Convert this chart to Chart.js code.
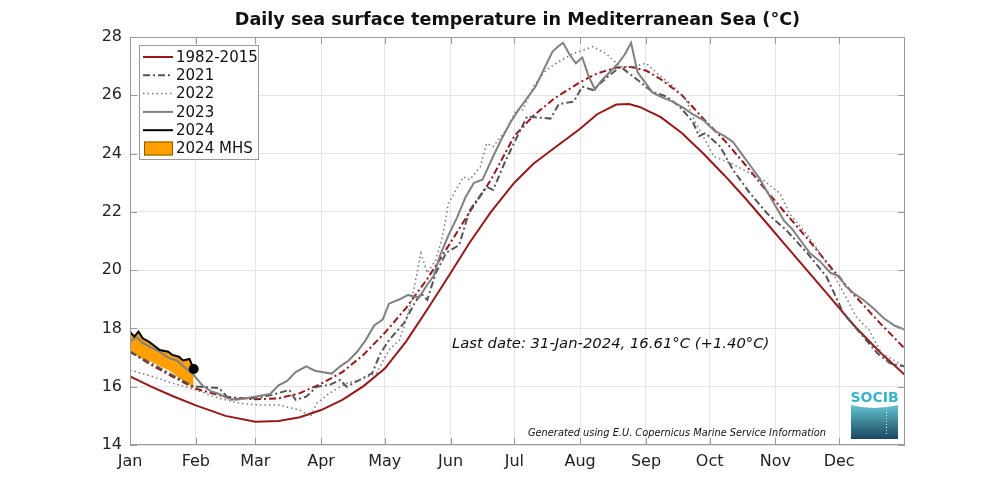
<!DOCTYPE html>
<html lang="en">
<head>
    <meta charset="utf-8">
    <title>Daily sea surface temperature in Mediterranean Sea</title>
    <script src="https://cdn.jsdelivr.net/npm/chart.js@4.4.0/dist/chart.umd.min.js"></script>
    <style>
        body { margin: 0; background: #fff; }
        #sst { display: block; }
    </style>
</head>
<body>
    <canvas id="sst" width="1000" height="500"></canvas>
    <script>
        // axis labels
        const monthLabels = ['Jan', 'Feb', 'Mar', 'Apr', 'May', 'Jun', 'Jul', 'Aug', 'Sep', 'Oct', 'Nov', 'Dec'];
        const monthStarts = [0, 31, 59, 90, 120, 151, 181, 212, 243, 273, 304, 334];
        const yTicks = [14, 16, 18, 20, 22, 24, 26, 28];

        // 1982-2015 climatology (day of year, degC)
        const climDays = [0, 10, 20, 31, 45, 59, 70, 80, 90, 100, 110, 120, 130, 140, 151, 160, 170, 181, 190, 200, 212, 220, 229, 235, 240, 250, 260, 270, 280, 290, 300, 310, 320, 330, 341, 353, 365];
        const climSst = [16.35, 16.0, 15.68, 15.36, 15.0, 14.8, 14.82, 14.95, 15.2, 15.55, 16.02, 16.62, 17.55, 18.65, 19.9, 20.95, 22.0, 23.0, 23.65, 24.2, 24.85, 25.35, 25.68, 25.7, 25.6, 25.25, 24.7, 24.0, 23.25, 22.45, 21.6, 20.75, 19.9, 19.05, 18.1, 17.2, 16.4];

        // dash-dot red line (MHS threshold)
        const threshDays = [0, 10, 20, 31, 45, 59, 70, 80, 90, 100, 110, 120, 130, 140, 151, 160, 170, 181, 190, 200, 212, 220, 229, 236, 243, 250, 260, 270, 280, 290, 300, 310, 320, 330, 341, 353, 365];
        const threshSst = [17.2, 16.75, 16.35, 15.93, 15.65, 15.57, 15.6, 15.78, 16.1, 16.5, 17.1, 17.85, 18.7, 19.7, 20.95, 22.0, 23.1, 24.6, 25.3, 25.9, 26.45, 26.75, 26.95, 26.97, 26.85, 26.55, 26.0, 25.2, 24.45, 23.6, 22.7, 21.85, 21.0, 20.1, 19.15, 18.2, 17.3];

        const days2021 = [0, 5, 10, 15, 20, 25, 30, 33, 42, 47, 53, 59, 67, 75, 78, 83, 88, 94, 99, 102, 108, 114, 118, 122, 129, 134, 137, 140, 144, 149, 155, 160, 168, 171, 177, 187, 198, 202, 209, 213, 218, 225, 231, 236, 240, 246, 253, 259, 265, 268, 271, 278, 284, 292, 300, 309, 319, 328, 336, 344, 352, 358, 365];
        const sst2021 = [17.2, 17.0, 16.8, 16.6, 16.4, 16.2, 16.0, 16.0, 15.95, 15.55, 15.6, 15.6, 15.72, 15.89, 15.55, 15.66, 16.0, 16.06, 16.23, 16.0, 16.23, 16.46, 17.15, 17.6, 18.18, 18.86, 19.2, 18.98, 19.9, 20.6, 20.86, 22.06, 22.86, 22.75, 23.78, 25.27, 25.2, 25.7, 25.78, 26.3, 26.18, 26.64, 26.98, 26.7, 26.47, 26.12, 25.95, 25.6, 25.1, 24.6, 24.7, 24.24, 23.44, 22.64, 21.95, 21.38, 20.58, 19.78, 18.52, 17.83, 17.15, 16.8, 16.69];

        const days2022 = [0, 11, 20, 31, 42, 52, 61, 70, 80, 85, 88, 94, 102, 108, 116, 122, 127, 130, 133, 137, 140, 144, 147, 150, 157, 160, 165, 168, 171, 177, 182, 185, 190, 196, 203, 209, 218, 224, 231, 237, 243, 250, 256, 262, 266, 270, 275, 283, 292, 298, 306, 311, 318, 323, 331, 337, 342, 348, 354, 365];
        const sst2022 = [16.57, 16.34, 16.12, 15.89, 15.6, 15.43, 15.37, 15.37, 15.2, 14.97, 15.43, 15.78, 16.12, 16.23, 16.46, 17.26, 17.6, 18.29, 19.09, 20.58, 19.9, 20.35, 21.1, 22.3, 23.2, 23.1, 23.55, 24.35, 24.24, 24.8, 25.5, 25.5, 26.3, 26.87, 27.2, 27.44, 27.67, 27.44, 26.98, 26.98, 27.1, 26.64, 26.3, 25.84, 25.1, 24.58, 23.9, 23.67, 23.32, 23.1, 22.64, 21.9, 21.3, 20.8, 19.9, 19.1, 18.4, 17.95, 17.15, 16.69];

        const days2023 = [0, 3, 6, 10, 14, 18, 22, 26, 30, 34, 38, 42, 46, 50, 54, 58, 62, 66, 70, 74, 78, 83, 87, 91, 95, 99, 103, 107, 111, 115, 119, 122, 127, 131, 136, 140, 143, 146, 150, 154, 158, 162, 166, 171, 175, 179, 183, 187, 191, 195, 199, 202, 204, 207, 210, 213, 216, 219, 222, 226, 230, 233, 236, 239, 243, 246, 250, 255, 260, 265, 270, 275, 280, 284, 288, 292, 296, 300, 304, 308, 312, 316, 320, 325, 330, 334, 337, 341, 345, 350, 355, 360, 365];
        const sst2023 = [17.55, 17.7, 17.5, 17.35, 17.2, 17.0, 16.9, 16.65, 16.4, 16.05, 15.85, 15.75, 15.6, 15.55, 15.6, 15.65, 15.7, 15.75, 16.05, 16.2, 16.5, 16.7, 16.55, 16.5, 16.45, 16.7, 16.9, 17.2, 17.6, 18.1, 18.3, 18.85, 19.0, 19.15, 19.05, 19.5, 19.8, 20.5, 21.2, 21.8, 22.5, 23.0, 23.1, 23.9, 24.5, 25.05, 25.5, 25.9, 26.3, 26.9, 27.5, 27.7, 27.8, 27.4, 27.1, 27.3, 26.65, 26.2, 26.5, 26.8, 27.1, 27.4, 27.8, 26.8, 26.4, 26.1, 25.95, 25.8, 25.6, 25.35, 25.15, 24.8, 24.6, 24.4, 24.0, 23.6, 23.2, 22.7, 22.2, 21.7, 21.4, 21.0, 20.6, 20.3, 19.9, 19.8, 19.45, 19.2, 19.0, 18.7, 18.35, 18.1, 17.95];

        const days2024 = [0, 2, 4, 6, 9, 11, 14, 18, 20, 23, 25, 28, 30];
        const sst2024 = [17.89, 17.72, 17.89, 17.66, 17.54, 17.43, 17.26, 17.2, 17.09, 17.03, 16.9, 16.95, 16.61];
        // lower edge of the 2024 MHS area (threshold over the same days)
        const mhsBase = [17.2, 17.1, 17.03, 16.95, 16.88, 16.82, 16.7, 16.57, 16.48, 16.3, 16.2, 16.06, 15.94];

        function pts(days, vals) {
            return days.map((d, i) => ({ x: d, y: vals[i] }));
        }

        const darkRed = 'rgb(150, 25, 25)';
        const orange = 'rgb(255, 160, 0)';

        const decor = {
            id: 'decor',
            beforeDraw(chart) {
                const c = chart.ctx;
                c.save();
                c.fillStyle = '#fff';
                c.fillRect(0, 0, chart.width, chart.height);
                c.restore();
            },
            afterDraw(chart) {
                const c = chart.ctx;
                const a = chart.chartArea;
                const xs = chart.scales.x, ys = chart.scales.y;
                c.save();

                // box and inward ticks
                c.strokeStyle = '#999';
                c.lineWidth = 1;
                c.strokeRect(a.left + 0.5, a.top + 0.5, a.right - a.left - 1, a.bottom - a.top - 1);
                c.beginPath();
                yTicks.forEach(v => {
                    const y = Math.round(ys.getPixelForValue(v)) + 0.5;
                    c.moveTo(a.left, y); c.lineTo(a.left + 7, y);
                    c.moveTo(a.right, y); c.lineTo(a.right - 7, y);
                });
                monthStarts.forEach(v => {
                    const x = Math.round(xs.getPixelForValue(v)) + 0.5;
                    c.moveTo(x, a.top); c.lineTo(x, a.top + 7);
                    c.moveTo(x, a.bottom); c.lineTo(x, a.bottom - 7);
                });
                c.stroke();

                // title
                c.fillStyle = '#111';
                c.font = 'bold 17.6px "DejaVu Sans"';
                c.textAlign = 'center';
                c.textBaseline = 'middle';
                c.fillText('Daily sea surface temperature in Mediterranean Sea (°C)', (a.left + a.right) / 2, 20);

                // legend
                const lx = 139, ly = 45, lw = 119, lh = 114;
                c.fillStyle = '#fff';
                c.fillRect(lx, ly, lw, lh);
                c.strokeStyle = '#999';
                c.strokeRect(lx + 0.5, ly + 0.5, lw, lh);
                const rows = [
                    { label: '1982-2015', color: darkRed, dash: [], width: 2 },
                    { label: '2021', color: '#555', dash: [7, 3, 2, 3], width: 2 },
                    { label: '2022', color: '#777', dash: [1.5, 3], width: 1.5 },
                    { label: '2023', color: '#808080', dash: [], width: 2 },
                    { label: '2024', color: '#000', dash: [], width: 2 },
                    { label: '2024 MHS', box: true }
                ];
                c.textAlign = 'left';
                c.font = '15px "DejaVu Sans"';
                rows.forEach((r, i) => {
                    const y = 57 + i * 18.3;
                    if (r.box) {
                        c.fillStyle = orange;
                        c.fillRect(144, y - 7, 29, 14);
                        c.strokeStyle = '#8a5a00';
                        c.lineWidth = 1;
                        c.strokeRect(144.5, y - 6.5, 28, 13);
                    } else {
                        c.strokeStyle = r.color;
                        c.lineWidth = r.width;
                        c.setLineDash(r.dash);
                        c.beginPath();
                        c.moveTo(143, y); c.lineTo(173, y);
                        c.stroke();
                        c.setLineDash([]);
                    }
                    c.fillStyle = '#111';
                    c.fillText(r.label, 176, y + 1);
                });

                // annotations
                c.fillStyle = '#111';
                c.font = 'italic 14.8px "DejaVu Sans"';
                c.fillText('Last date: 31-Jan-2024, 16.61°C (+1.40°C)', 452, 344);
                c.font = 'italic 9.8px "DejaVu Sans"';
                c.fillText('Generated using E.U. Copernicus Marine Service Information', 528, 433);

                // SOCIB logo
                c.fillStyle = 'rgb(60, 180, 200)';
                c.font = 'bold 14px "DejaVu Sans"';
                c.textAlign = 'center';
                c.fillText('SOCIB', 874.5, 398);
                const g = c.createLinearGradient(0, 405, 0, 439);
                g.addColorStop(0, 'rgb(100, 195, 208)');
                g.addColorStop(1, 'rgb(25, 70, 95)');
                c.fillStyle = g;
                c.beginPath();
                c.moveTo(851, 405);
                c.quadraticCurveTo(874, 411, 898, 405);
                c.lineTo(898, 439);
                c.lineTo(851, 439);
                c.closePath();
                c.fill();
                c.strokeStyle = 'rgba(255,255,255,0.9)';
                c.lineWidth = 1;
                c.setLineDash([1, 2]);
                c.beginPath();
                c.moveTo(886.5, 409); c.lineTo(886.5, 436);
                c.stroke();
                c.restore();
            }
        };

        new Chart(document.getElementById('sst'), {
            type: 'line',
            data: {
                datasets: [
                    {
                        label: '2024', data: pts(days2024, sst2024), borderColor: '#000', borderWidth: 2,
                        pointRadius: days2024.map((d, i) => i === days2024.length - 1 ? 4 : 0),
                        pointBackgroundColor: '#000', pointBorderColor: '#000', fill: false
                    },
                    { label: '2023', data: pts(days2023, sst2023), borderColor: '#808080', borderWidth: 2, pointRadius: 0, fill: false },
                    { label: '2022', data: pts(days2022, sst2022), borderColor: '#777', borderWidth: 1.5, borderDash: [1.5, 3], pointRadius: 0, fill: false },
                    { label: '2021', data: pts(days2021, sst2021), borderColor: '#555', borderWidth: 2, borderDash: [7, 3, 2, 3], pointRadius: 0, fill: false },
                    { label: 'threshold', data: pts(threshDays, threshSst), borderColor: darkRed, borderWidth: 2, borderDash: [7, 3, 2, 3], pointRadius: 0, fill: false },
                    { label: '1982-2015', data: pts(climDays, climSst), borderColor: darkRed, borderWidth: 2, pointRadius: 0, fill: false },
                    { label: '2024 MHS', data: pts(days2024, sst2024), borderColor: 'rgba(0,0,0,0)', borderWidth: 0, backgroundColor: orange, pointRadius: 0, fill: 7 },
                    { label: 'mhs base', data: pts(days2024, mhsBase), borderColor: 'rgba(0,0,0,0)', borderWidth: 0, pointRadius: 0, fill: false }
                ]
            },
            options: {
                responsive: false,
                animation: false,
                layout: { padding: { top: 37, right: 95, bottom: 0, left: 0 } },
                plugins: { legend: { display: false }, title: { display: false }, tooltip: { enabled: false } },
                scales: {
                    x: {
                        type: 'linear', min: 0, max: 365,
                        afterBuildTicks: s => { s.ticks = monthStarts.map(v => ({ value: v })); },
                        afterFit: s => { s.height = 55; },
                        ticks: {
                            autoSkip: false, maxRotation: 0, padding: 7, color: '#222',
                            font: { family: 'DejaVu Sans', size: 16 },
                            callback: v => monthLabels[monthStarts.indexOf(v)]
                        },
                        grid: { color: '#e4e4e4', drawTicks: false },
                        border: { display: false }
                    },
                    y: {
                        min: 14, max: 28,
                        afterBuildTicks: s => { s.ticks = yTicks.map(v => ({ value: v })); },
                        afterFit: s => { s.width = 130; },
                        ticks: { padding: 8, color: '#222', font: { family: 'DejaVu Sans', size: 16 } },
                        grid: { color: '#e4e4e4', drawTicks: false },
                        border: { display: false }
                    }
                }
            },
            plugins: [decor]
        });
    </script>
</body>
</html>
